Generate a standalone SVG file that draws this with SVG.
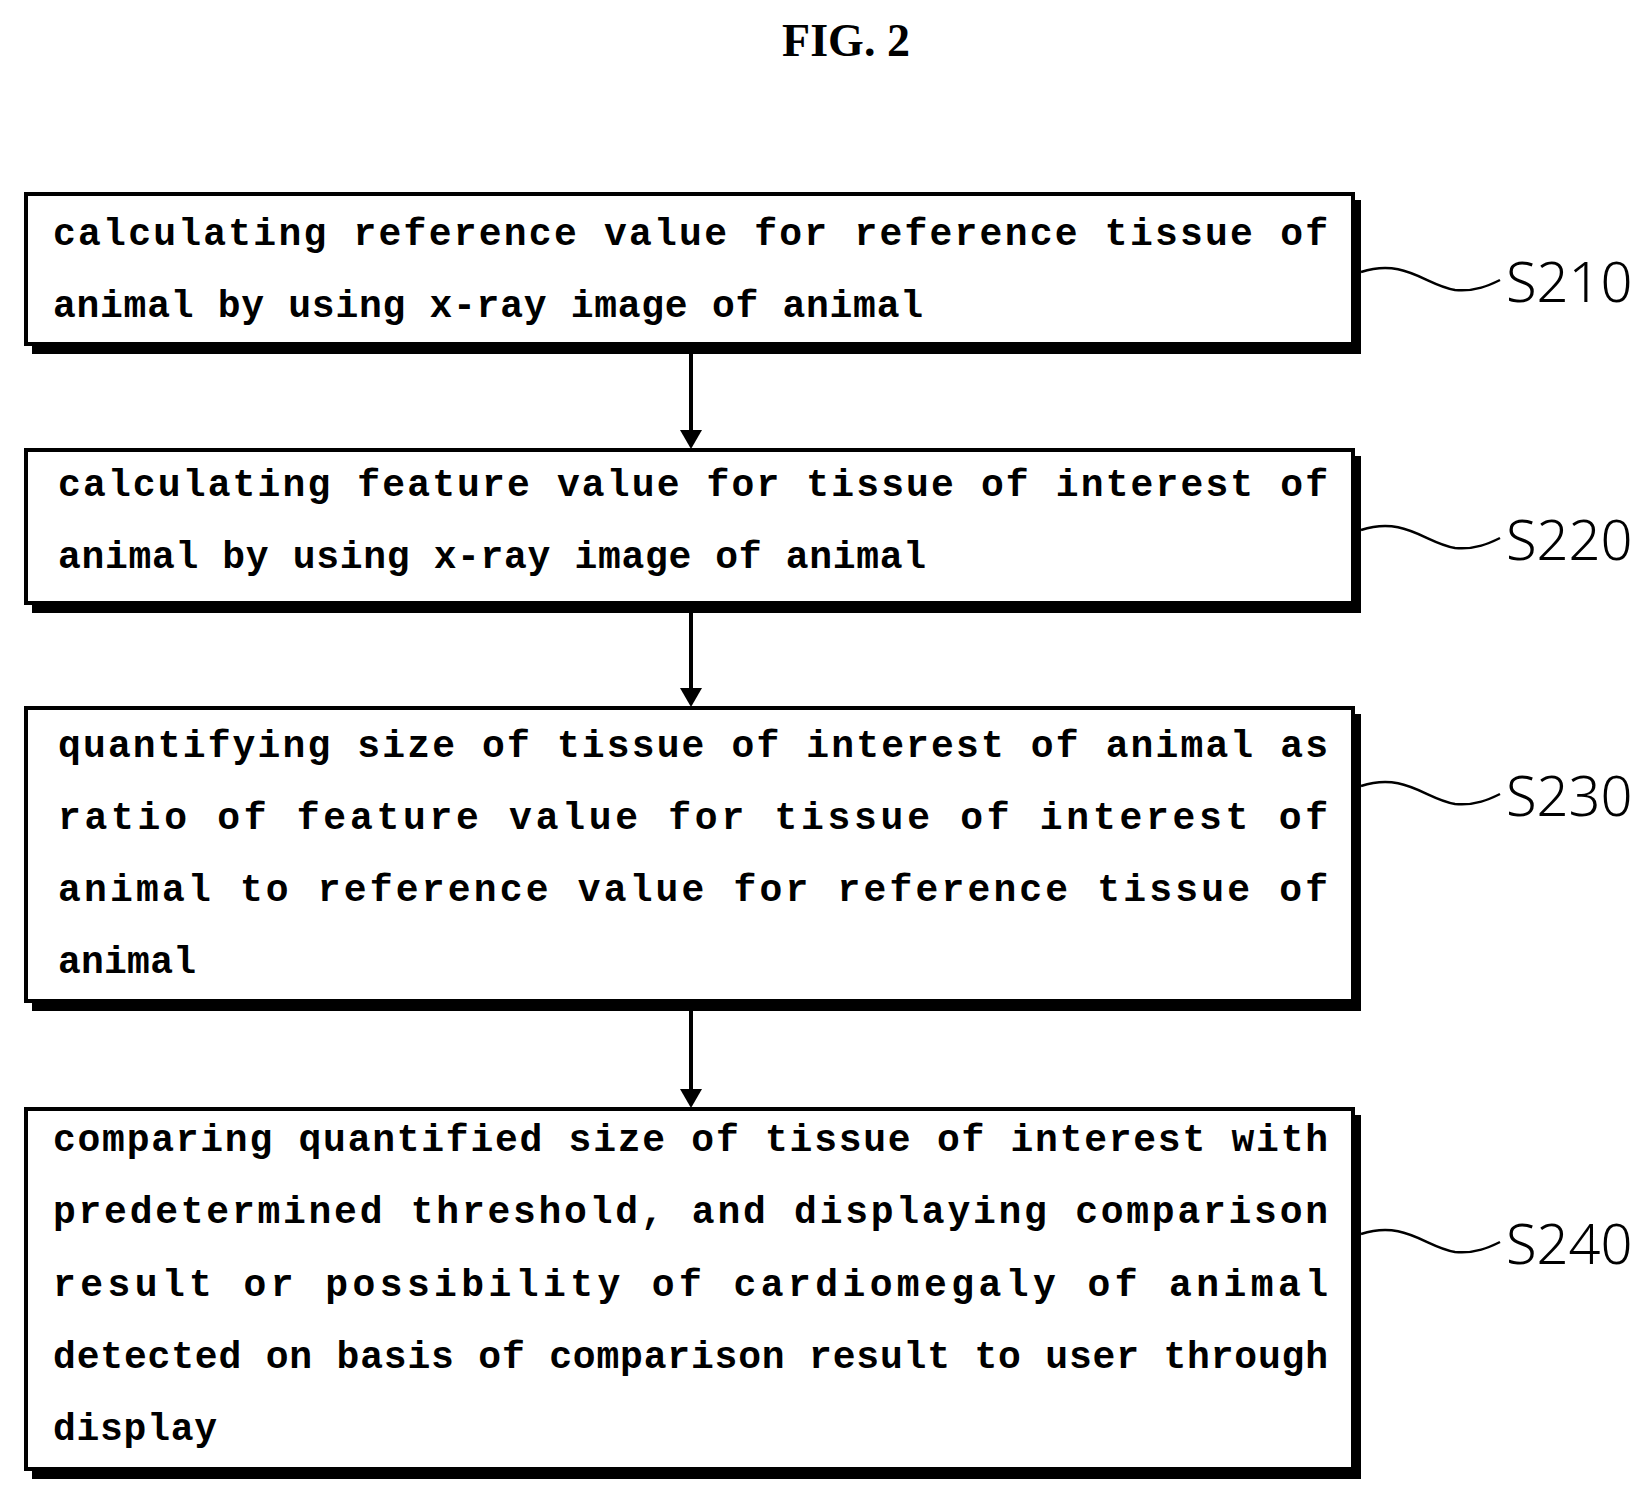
<svg xmlns="http://www.w3.org/2000/svg" width="1650" height="1490" viewBox="0 0 1650 1490">
<defs>
<style>
.b{fill:#fff;stroke:#000;stroke-width:4}
.sh{fill:#000}
.t{font-family:"Liberation Mono",monospace;font-weight:bold;font-size:38px;fill:#000}
.l{font-family:"Noto Sans","DejaVu Sans",sans-serif;font-weight:300;font-size:56px;fill:#000}
.c{stroke:#000;stroke-width:4;fill:none}
.sq{stroke:#000;stroke-width:2.5;fill:none}
</style>
</defs>
<rect width="1650" height="1490" fill="#fff"/>
<text x="846" y="56" text-anchor="middle" font-family="Liberation Serif,serif" font-weight="bold" font-size="46">FIG. 2</text>
<g id="connectors">
<line class="c" x1="691" y1="350" x2="691" y2="436"/><path d="M680,430L691,449L702,430z"/>
<line class="c" x1="691" y1="609" x2="691" y2="694"/><path d="M680,688L691,707L702,688z"/>
<line class="c" x1="691" y1="1007" x2="691" y2="1095"/><path d="M680,1089L691,1108L702,1089z"/>
<path class="sq" d="M1361,272C1405,258 1425,285 1455,290C1475,292 1490,285 1500,280"/>
<path class="sq" d="M1361,530C1405,516 1425,543 1455,548C1475,550 1490,543 1500,538"/>
<path class="sq" d="M1361,786C1405,772 1425,799 1455,804C1475,806 1490,799 1500,794"/>
<path class="sq" d="M1361,1234C1405,1220 1425,1247 1455,1252C1475,1254 1490,1247 1500,1242"/>
</g>
<g id="S210">
<rect class="sh" x="32" y="200" width="1329" height="154"/>
<rect class="b" x="26" y="194" width="1327" height="150"/>
<text class="t" x="53" y="245" textLength="1275" lengthAdjust="spacing">calculating  reference  value  for  reference  tissue  of</text>
<text class="t" x="53" y="317" textLength="870" lengthAdjust="spacing">animal by using x-ray image of animal</text>
<text class="l" x="1506" y="302">S210</text>
</g>
<g id="S220">
<rect class="sh" x="32" y="456" width="1329" height="157"/>
<rect class="b" x="26" y="450" width="1327" height="153"/>
<text class="t" x="58" y="496" textLength="1270" lengthAdjust="spacing">calculating  feature  value  for  tissue  of  interest  of</text>
<text class="t" x="58" y="568" textLength="868" lengthAdjust="spacing">animal by using x-ray image of animal</text>
<text class="l" x="1506" y="560">S220</text>
</g>
<g id="S230">
<rect class="sh" x="32" y="714" width="1329" height="297"/>
<rect class="b" x="26" y="708" width="1327" height="293"/>
<text class="t" x="58" y="757" textLength="1270" lengthAdjust="spacing">quantifying  size  of  tissue  of  interest  of  animal  as</text>
<text class="t" x="58" y="829" textLength="1270" lengthAdjust="spacing">ratio  of  feature  value  for  tissue  of  interest  of</text>
<text class="t" x="58" y="901" textLength="1270" lengthAdjust="spacing">animal  to  reference  value  for  reference  tissue  of</text>
<text class="t" x="58" y="973" textLength="138" lengthAdjust="spacing">animal</text>
<text class="l" x="1506" y="816">S230</text>
</g>
<g id="S240">
<rect class="sh" x="32" y="1115" width="1329" height="364"/>
<rect class="b" x="26" y="1109" width="1327" height="360"/>
<text class="t" x="53" y="1151" textLength="1275" lengthAdjust="spacing">comparing  quantified  size  of  tissue  of  interest  with</text>
<text class="t" x="53" y="1223" textLength="1275" lengthAdjust="spacing">predetermined  threshold,  and  displaying  comparison</text>
<text class="t" x="53" y="1296" textLength="1275" lengthAdjust="spacing">result  or  possibility  of  cardiomegaly  of  animal</text>
<text class="t" x="53" y="1368" textLength="1275" lengthAdjust="spacing">detected on basis of comparison result to user through</text>
<text class="t" x="53" y="1440" textLength="164" lengthAdjust="spacing">display</text>
<text class="l" x="1506" y="1264">S240</text>
</g>
</svg>
